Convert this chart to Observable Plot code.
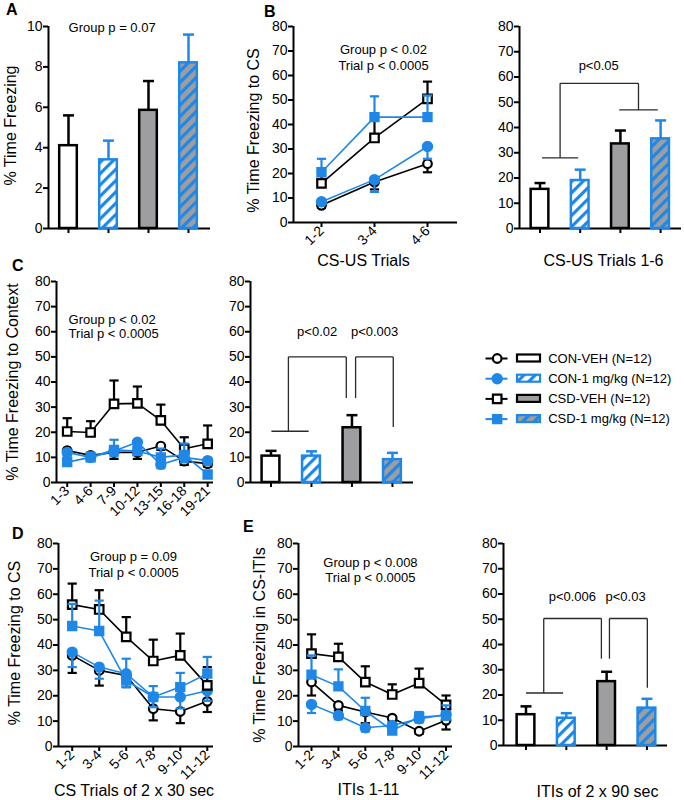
<!DOCTYPE html>
<html><head><meta charset="utf-8">
<script src="https://cdn.jsdelivr.net/npm/d3@7"></script>
<script src="https://cdn.jsdelivr.net/npm/@observablehq/plot@0.6"></script>
<style>
body{margin:0;background:#fff;font-family:"Liberation Sans",Arial,sans-serif;}
#fig{position:relative;width:684px;height:800px;overflow:hidden;background:#fff;}
.letter{position:absolute;font-weight:bold;font-size:16px;line-height:16px;color:#000;}
</style></head><body><div id="fig"></div>
<script>
// ---------- data ----------
const groups = ["CON-VEH (N=12)", "CON-1 mg/kg (N=12)", "CSD-VEH (N=12)", "CSD-1 mg/kg (N=12)"];

// Panel A : % time freezing (bars)
const aValues = [4.1, 3.4, 5.85, 8.2];
const aErrors = [1.5, 0.95, 1.45, 1.4];

// Panel B : CS-US trials (lines)
const bTrials = ["1-2", "3-4", "4-6"];
const bConVeh = [7, 16.5, 24],      bConVehErr = [1, 3, 3.5];
const bCon1   = [8.5, 17.5, 31],    bCon1Err   = [1, 5, 5];
const bCsdVeh = [16, 34.5, 50.5],   bCsdVehErr = [3, 8.5, 7];
const bCsd1   = [20.5, 43, 43],     bCsd1Err   = [5.5, 8.5, 8.8];
// Panel B : CS-US trials 1-6 (bars)
const bBarValues = [15.5, 19, 33.5, 35.5];
const bBarErrors = [2.5, 4.3, 5.3, 7.3];

// Panel C : context (lines)
const cTrials = ["1-3", "4-6", "7-9", "10-12", "13-15", "16-18", "19-21"];
const cConVeh = [12.7, 10.8, 12, 12, 14.5, 8.5, 7.5],   cConVehErr = [1.5, 1.5, 2.6, 2.6, 1.5, 1.5, 1.2];
const cCon1   = [12, 10, 12.5, 16, 7.2, 10, 8.7],       cCon1Err   = [1.5, 1.5, 2, 1.5, 1.5, 2, 1.5];
const cCsdVeh = [20.3, 19.9, 31.3, 31.5, 24.7, 13.4, 15.4], cCsdVehErr = [5.3, 4.5, 9.3, 6.7, 6.3, 4.6, 7.3];
const cCsd1   = [8.1, 10, 13, 12.5, 10, 11, 3.2],       cCsd1Err   = [1.5, 2, 4, 2, 3.5, 4.5, 1];
// Panel C : bars
const cBarValues = [10.5, 10.5, 21.8, 9.1];
const cBarErrors = [2.1, 1.9, 5, 2.7];

// Panel D : CS trials of 2 x 30 sec
const dTrials = ["1-2", "3-4", "5-6", "7-8", "9-10", "11-12"];
const dConVeh = [35.9, 30, 28, 14.9, 13.8, 17.8],   dConVehErr = [6.9, 6, 4.6, 4.6, 4.6, 4.2];
const dCon1   = [37.2, 31.3, 28.7, 19.5, 19.5, 22], dCon1Err   = [5.9, 4.6, 5.3, 4, 4.5, 4];
const dCsdVeh = [55.9, 54, 43.2, 33.7, 35.9, 24.1], dCsdVehErr = [8.3, 7.6, 7.8, 8.4, 8.6, 7.2];
const dCsd1   = [47.5, 45.5, 26, 19.5, 23.4, 28.7], dCsd1Err   = [8.7, 12, 8.6, 4.3, 5.6, 6.6];

// Panel E : ITIs 1-11
const eTrials = ["1-2", "3-4", "5-6", "7-8", "9-10", "11-12"];
const eConVeh = [25.4, 16.2, 13.6, 11.2, 6, 10.3],  eConVehErr = [5.3, 2, 4.4, 1.5, 1, 3.6];
const eCon1   = [16.6, 12.2, 7.4, 8.3, 10.9, 12.6], eCon1Err   = [3.4, 1.5, 1.5, 1.5, 1.5, 2];
const eCsdVeh = [36.6, 35.3, 25.4, 20.5, 25, 16.4], eCsdVehErr = [7.6, 5.2, 6.2, 4, 5.7, 3.7];
const eCsd1   = [28.3, 23.7, 14, 6.3, 11.6, 12.2],  eCsd1Err   = [7.6, 6.7, 5.2, 2, 2, 4];
// Panel E : bars
const eBarValues = [12.2, 10.8, 25.3, 14.8];
const eBarErrors = [3.3, 2, 3.9, 3.7];

// ---------- annotations ----------
const bBrackets = [[0.05,28,0.95,28],[0.5,28,0.5,57.5],[0.5,57.5,2.45,57.5],[2.45,57.5,2.45,47],[1.97,47,2.93,47]];
const cBrackets = [[0.01,20.4,0.93,20.4],[0.43,20.4,0.43,50],[0.43,50,1.86,50],[1.86,50,1.86,33.6],
                   [2.09,33.6,2.09,50],[2.09,50,3.02,50],[3.02,50,3.02,22.1]];
const eBrackets = [[0.0,20.8,0.92,20.8],[0.44,20.8,0.44,50.3],[0.44,50.3,1.87,50.3],[1.87,50.3,1.87,34.4],
                   [2.07,34.4,2.07,50.3],[2.07,50.3,3.01,50.3],[3.01,50.3,3.01,22.9]];

// ---------- styles ----------
const BLUE = "#1f87e6", GRAY = "#9e9ea0", INK = "#000";
const FONT = "'Liberation Sans', Arial, sans-serif";
const gStroke = [INK, BLUE, INK, BLUE];
const gDotFill = ["white", BLUE, "white", BLUE];
const gSymbol = ["circle", "circle", "square", "square"];
const gR = [4.3, 4.6, 4.8, 4.6];
const gDir = [-1, -1, 1, 1];
const capSymbol = {draw(ctx, size) { const r = Math.sqrt(size / Math.PI); ctx.moveTo(-r, 0); ctx.lineTo(r, 0); }};

const fig = document.getElementById("fig");

function addDefs(svg, id) {
  d3.select(svg).insert("defs", ":first-child").html(
    `<pattern id="hw-${id}" patternUnits="userSpaceOnUse" width="8" height="8" patternTransform="rotate(45)">` +
    `<rect width="8" height="8" fill="white"/><rect width="3.2" height="8" fill="${BLUE}"/></pattern>` +
    `<pattern id="hg-${id}" patternUnits="userSpaceOnUse" width="8" height="8" patternTransform="rotate(45)">` +
    `<rect width="8" height="8" fill="${GRAY}"/><rect width="3.2" height="8" fill="${BLUE}"/></pattern>`);
}

function place(svg, box) {
  svg.style.position = "absolute";
  svg.style.left = box.x + "px";
  svg.style.top = box.y + "px";
  fig.appendChild(svg);
}

function makePlot(id, box, rect, xd, yd, marks) {
  const svg = Plot.plot({
    width: box.w, height: box.h,
    marginLeft: rect.x0 - box.x, marginRight: box.x + box.w - rect.x1,
    marginTop: rect.y0 - box.y, marginBottom: box.y + box.h - rect.y1,
    x: {type: "linear", domain: xd},
    y: {type: "linear", domain: yd},
    color: {type: "identity"},
    style: {fontFamily: FONT, fontSize: "14px", background: "transparent", overflow: "visible", color: "#000"},
    marks
  });
  addDefs(svg, id);
  place(svg, box);
}

function baseAxes(xd, yticks, xticks, xfmt, rotate) {
  return [
    Plot.axisY({ticks: yticks, tickSize: 5, tickPadding: 1, fontSize: 14, strokeWidth: 2, label: null}),
    Plot.axisX({ticks: xticks, tickFormat: xfmt, tickRotate: rotate, tickSize: 5, tickPadding: 1, fontSize: 14, strokeWidth: 2, label: null}),
    Plot.ruleX([xd[0]], {stroke: INK, strokeWidth: 2}),
    Plot.ruleY([0], {stroke: INK, strokeWidth: 2})
  ];
}

function yTitle(t, dx, dy) {
  return Plot.text([t], {frameAnchor: "left", rotate: -90, dx, dy, fontSize: 16, textAnchor: "middle", lineAnchor: "middle"});
}
function xTitle(t, dx, dy) {
  return Plot.text([t], {frameAnchor: "bottom", dx, dy, fontSize: 16, textAnchor: "middle", lineAnchor: "middle"});
}
function notes(list) {
  return Plot.text(list, {x: "x", y: "y", text: "t", fontSize: 13, textAnchor: "middle", lineAnchor: "middle"});
}
function brackets(list) {
  return Plot.link(list, {x1: d => d[0], y1: d => d[1], x2: d => d[2], y2: d => d[3], stroke: "#2a2a2a", strokeWidth: 1.3});
}

function linePanel(id, box, rect, xd, labels, series, extra) {
  const rows = [];
  series.forEach(([vals, errs], g) => vals.forEach((v, i) => rows.push({g, i, v, end: v + gDir[g] * errs[i]})));
  const marks = [...baseAxes(xd, d3.range(0, 81, 10), d3.range(labels.length), i => labels[i], -45)];
  for (let g = 0; g < 4; g++) {
    const r = rows.filter(d => d.g === g);
    marks.push(Plot.line(r, {x: "i", y: "v", stroke: gStroke[g], strokeWidth: 1.6}));
    marks.push(Plot.ruleX(r, {x: "i", y1: "v", y2: "end", stroke: gStroke[g], strokeWidth: 2.2}));
    marks.push(Plot.dot(r, {x: "i", y: "end", symbol: capSymbol, r: 4.6, fill: "none", stroke: gStroke[g], strokeWidth: 2.2}));
    marks.push(Plot.dot(r, {x: "i", y: "v", symbol: gSymbol[g], r: gR[g], fill: gDotFill[g], stroke: gStroke[g], strokeWidth: 2.2}));
  }
  makePlot(id, box, rect, xd, [0, 80], marks.concat(extra));
}

function barPanel(id, box, rect, xd, yd, yticks, values, errors, extra) {
  const fills = ["white", `url(#hw-${id})`, GRAY, `url(#hg-${id})`];
  const rows = values.map((v, i) => ({i, v, end: v + errors[i]}));
  const w = 0.22;
  const marks = [
    ...baseAxes(xd, yticks, d3.range(values.length), () => "", 0),
    Plot.ruleX(rows, {x: "i", y1: "v", y2: "end", stroke: d => gStroke[d.i], strokeWidth: 2.5}),
    Plot.dot(rows, {x: "i", y: "end", symbol: capSymbol, r: 5.5, fill: "none", stroke: d => gStroke[d.i], strokeWidth: 2.5}),
    Plot.rect(rows, {x1: d => d.i - w, x2: d => d.i + w, y1: 0, y2: "v", fill: d => fills[d.i], stroke: d => gStroke[d.i], strokeWidth: 2.5})
  ];
  makePlot(id, box, rect, xd, yd, marks.concat(extra));
}

// ---------- panels ----------
barPanel("A", {x: 0, y: 0, w: 232, h: 262}, {x0: 48, x1: 210, y0: 26, y1: 228}, [-0.5, 3.55], [0, 10], d3.range(0, 11, 2),
  aValues, aErrors,
  [yTitle("% Time Freezing", -38, -2), notes([{x: 1.09, y: 9.95, t: "Group p = 0.07"}])]);

linePanel("B1", {x: 232, y: 0, w: 236, h: 272}, {x0: 293, x1: 457, y0: 26, y1: 222}, [-0.528, 2.566], bTrials,
  [[bConVeh, bConVehErr], [bCon1, bCon1Err], [bCsdVeh, bCsdVehErr], [bCsd1, bCsd1Err]],
  [yTitle("% Time Freezing to CS", -39.5, 6), xTitle("CS-US Trials", -12, 38),
   notes([{x: 1.17, y: 70.6, t: "Group p < 0.02"}, {x: 1.17, y: 64, t: "Trial p < 0.0005"}])]);

barPanel("B2", {x: 468, y: 0, w: 216, h: 272}, {x0: 519, x1: 681, y0: 26, y1: 228}, [-0.51, 3.52], [0, 80], d3.range(0, 81, 10),
  bBarValues, bBarErrors,
  [brackets(bBrackets), notes([{x: 1.46, y: 64.5, t: "p<0.05"}]), xTitle("CS-US Trials 1-6", 3, 32)]);

linePanel("C1", {x: 0, y: 262, w: 226, h: 268}, {x0: 56, x1: 213, y0: 281, y1: 482}, [-0.457, 6.25], cTrials,
  [[cConVeh, cConVehErr], [cCon1, cCon1Err], [cCsdVeh, cCsdVehErr], [cCsd1, cCsd1Err]],
  [yTitle("% Time Freezing to Context", -44, 0),
   Plot.text([{x: 0.06, y: 64.9, t: "Group p < 0.02"}, {x: 0.06, y: 59.3, t: "Trial p < 0.0005"}],
     {x: "x", y: "y", text: "t", fontSize: 13, textAnchor: "start", lineAnchor: "middle"})]);

barPanel("C2", {x: 226, y: 262, w: 220, h: 268}, {x0: 250, x1: 413, y0: 281, y1: 482}, [-0.506, 3.52], [0, 80], d3.range(0, 81, 10),
  cBarValues, cBarErrors,
  [brackets(cBrackets), notes([{x: 1.14, y: 59.8, t: "p<0.02"}, {x: 2.56, y: 59.8, t: "p<0.003"}])]);

linePanel("D", {x: 0, y: 530, w: 240, h: 270}, {x0: 58, x1: 213, y0: 543, y1: 746}, [-0.507, 5.23], dTrials,
  [[dConVeh, dConVehErr], [dCon1, dCon1Err], [dCsdVeh, dCsdVehErr], [dCsd1, dCsd1Err]],
  [yTitle("% Time Freezing to CS", -43.5, -2), xTitle("CS Trials of 2 x 30 sec", -2, 44),
   notes([{x: 2.27, y: 74.9, t: "Group p = 0.09"}, {x: 2.27, y: 68.6, t: "Trial p < 0.0005"}])]);

linePanel("E1", {x: 240, y: 530, w: 228, h: 270}, {x0: 298, x1: 452, y0: 543, y1: 746}, [-0.483, 5.24], eTrials,
  [[eConVeh, eConVehErr], [eCon1, eCon1Err], [eCsdVeh, eCsdVehErr], [eCsd1, eCsd1Err]],
  [yTitle("% Time Freezing in CS-ITIs", -38.3, 0), xTitle("ITIs 1-11", -7, 43),
   notes([{x: 2.19, y: 72.5, t: "Group p < 0.008"}, {x: 2.19, y: 66.6, t: "Trial p < 0.0005"}])]);

barPanel("E2", {x: 468, y: 530, w: 216, h: 270}, {x0: 503, x1: 667, y0: 543, y1: 745}, [-0.558, 3.51], [0, 80], d3.range(0, 81, 10),
  eBarValues, eBarErrors,
  [brackets(eBrackets), notes([{x: 1.15, y: 59, t: "p<0.006"}, {x: 2.47, y: 59, t: "p<0.03"}]), xTitle("ITIs of 2 x 90 sec", 12, 46.7)]);

// ---------- legend ----------
(function legend() {
  const box = {x: 450, y: 345, w: 234, h: 90};
  const rowY = i => 13 + i * 20.2;
  const swFill = ["white", "url(#hw-L)", GRAY, "url(#hg-L)"];
  const rows = groups.map((name, i) => ({name, i, y: rowY(i)}));
  const marks = [
    Plot.link(rows, {x1: 35, x2: 57, y1: "y", y2: "y", stroke: d => gStroke[d.i], strokeWidth: 2})
  ];
  for (let g = 0; g < 4; g++) {
    marks.push(Plot.dot(rows.filter(d => d.i === g), {x: 46.7, y: "y", symbol: gSymbol[g], r: gR[g], fill: gDotFill[g], stroke: gStroke[g], strokeWidth: 2.2}));
  }
  marks.push(Plot.rect(rows, {x1: 67, x2: 90, y1: d => d.y - 3.5, y2: d => d.y + 3.5, fill: d => swFill[d.i], stroke: d => gStroke[d.i], strokeWidth: 2.2}));
  marks.push(Plot.text(rows, {x: 97.7, y: "y", text: "name", fontSize: 13, textAnchor: "start", lineAnchor: "middle"}));
  const svg = Plot.plot({
    width: box.w, height: box.h, margin: 0,
    x: {type: "linear", domain: [0, box.w], range: [0, box.w], axis: null},
    y: {type: "linear", domain: [0, box.h], range: [0, box.h], axis: null},
    color: {type: "identity"},
    style: {fontFamily: FONT, fontSize: "13px", background: "transparent", overflow: "visible", color: "#000"},
    marks
  });
  addDefs(svg, "L");
  place(svg, box);
})();

// ---------- panel letters ----------
[["A", 6, 2], ["B", 264, 4], ["C", 12, 258], ["D", 12, 526], ["E", 243, 519]].forEach(([t, x, y]) => {
  const d = document.createElement("div");
  d.className = "letter"; d.textContent = t;
  d.style.left = x + "px"; d.style.top = y + "px";
  fig.appendChild(d);
});
</script>
</body></html>
